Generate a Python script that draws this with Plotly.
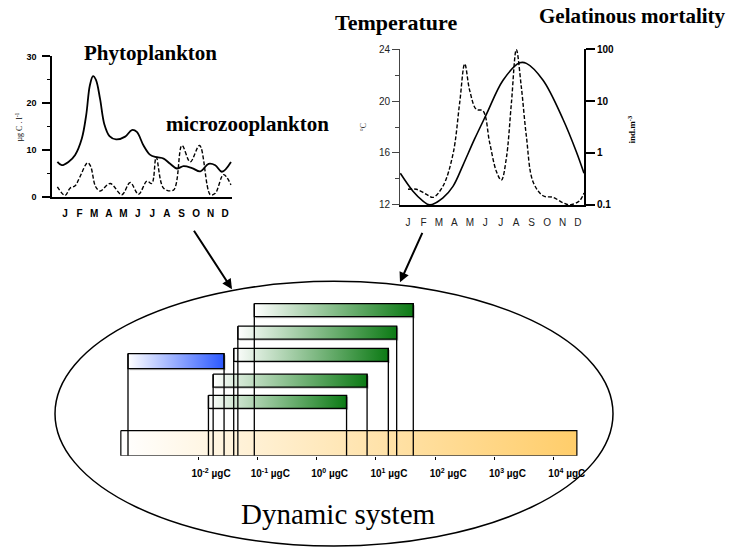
import plotly.graph_objects as go

W, H = 739, 550

# ---------------- data ----------------
months = ["J", "F", "M", "A", "M", "J", "J", "A", "S", "O", "N", "D"]
month_pos = list(range(1, 13))

# Phytoplankton (µg C l-1), solid
phyto_t = [0.47, 0.77, 1.23, 1.69, 2.15, 2.45, 2.7, 2.92, 3.12, 3.4, 3.7, 4.05, 4.5, 5.13, 5.59, 5.93,
           6.39, 6.85, 7.31, 7.77, 8.22, 8.68, 9.14, 9.72, 10.29, 10.86, 11.32, 11.78, 12.4]
phyto_v = [7.5, 6.8, 7.5, 9.0, 12.5, 17.5, 23.8, 25.8, 25.0, 21.0, 15.5, 13.0, 12.3, 12.9, 14.3, 13.9,
           11.0, 9.0, 8.5, 8.2, 7.1, 6.1, 6.6, 6.2, 5.5, 7.1, 6.8, 5.4, 7.5]

# Microzooplankton (µg C l-1), dashed
micro_t = [0.47, 1.0, 1.34, 1.69, 2.0, 2.54, 2.75, 3.1, 3.41, 4.1, 4.9, 5.47, 6.05, 6.62, 6.96,
           7.26, 7.77, 8.45, 9.03, 9.6, 10.24, 10.98, 11.32, 11.89, 12.4]
micro_v = [2.2, 0.35, 1.9, 2.4, 4.2, 7.3, 6.6, 2.2, 1.3, 2.9, 0.5, 3.1, 0.6, 3.4, 2.9,
           8.5, 1.9, 1.5, 11.0, 7.5, 11.0, 0.5, 0.8, 4.8, 2.6]

# Temperature (°C), solid
temp_t = [0.5, 1.32, 1.97, 2.4, 3.26, 3.91, 4.56, 5.31, 6.07, 7.15, 8.23, 8.66, 9.74, 11.03, 11.9, 12.39]
temp_v = [14.44, 13.06, 12.3, 12.0, 12.55, 13.43, 15.07, 17.08, 18.97, 21.6, 22.94, 22.9, 21.6, 18.6, 16.08, 14.44]

# Gelatinous mortality (ind. m-3), dashed
gel_t = [1.0, 1.54, 2.19, 2.62, 3.26, 3.91, 4.34, 4.67, 4.99, 5.42, 5.85, 6.28, 6.72, 7.04,
         7.36, 7.69, 8.01, 8.33, 8.66, 9.09, 9.74, 10.38, 11.03, 11.46, 12.1, 12.39]
gel_v = [0.2, 0.2, 0.16, 0.14, 0.23, 0.95, 9.1, 52, 16, 6.9, 6.5, 1.6, 0.44, 0.3,
         0.78, 9.1, 98, 19, 2.1, 0.28, 0.15, 0.14, 0.11, 0.1, 0.12, 0.17]

# Size spectrum (µg C)
size_ticks = [1e-2, 1e-1, 1e0, 1e1, 1e2, 1e3, 1e4]
size_tick_text = ["10<sup>-2</sup> µgC", "10<sup>-1</sup> µgC", "10<sup>0</sup> µgC", "10<sup>1</sup> µgC",
                  "10<sup>2</sup> µgC", "10<sup>3</sup> µgC", "10<sup>4</sup> µgC"]
spectrum_lo, spectrum_hi = 0.0005, 24500
bar_lo = [0.089, 0.047, 0.040, 0.018, 0.015, 0.00066]
bar_hi = [42.7, 22.4, 16.2, 7.1, 3.2, 0.0275]
bar_kind = ["green", "green", "green", "green", "green", "blue"]

# ---------------- layout helpers (pixel positions) ----------------
def PX(p):
    return p / W

def PY(p):
    return 1 - p / H

row_top = [304.7, 327.7, 350.3, 376.7, 398.3, 355.7]
row_h = [13.3, 13.3, 13.3, 13.3, 13.3, 15.3]
spec_top, spec_bot = 434.3, 460.0
shadow_dec = 1.6 / 59.3  # ~1.6 px in decades on the size axis

grad = {
    "green": [[0, "rgba(255,255,255,1)"], [1, "#0c7a14"]],
    "blue": [[0, "rgba(255,255,255,1)"], [1, "#2b58ff"]],
    "orange": [[0, "rgba(255,255,255,1)"], [1, "#ffcd6a"]],
}

fig = go.Figure()

# left chart
fig.add_trace(go.Scatter(x=phyto_t, y=phyto_v, mode="lines", xaxis="x", yaxis="y",
                         line=dict(color="black", width=1.8, shape="spline")))
fig.add_trace(go.Scatter(x=micro_t, y=micro_v, mode="lines", xaxis="x", yaxis="y",
                         line=dict(color="black", width=1.4, dash="4px,2px", shape="spline")))
# right chart
fig.add_trace(go.Scatter(x=temp_t, y=temp_v, mode="lines", xaxis="x2", yaxis="y2",
                         line=dict(color="black", width=1.6, shape="spline")))
fig.add_trace(go.Scatter(x=gel_t, y=gel_v, mode="lines", xaxis="x2", yaxis="y3",
                         line=dict(color="black", width=1.4, dash="4px,2px", shape="spline")))

# size spectrum bar
fig.add_trace(go.Scatter(
    x=[spectrum_lo, spectrum_hi, spectrum_hi, spectrum_lo, spectrum_lo],
    y=[spec_top, spec_top, spec_bot, spec_bot, spec_top],
    mode="lines", fill="toself", xaxis="x3", yaxis="y4",
    fillgradient=dict(type="horizontal", colorscale=grad["orange"]),
    line=dict(color="black", width=1.2)))

# organism bars (with a light drop shadow)
for lo, hi, top, h, kind in zip(bar_lo, bar_hi, row_top, row_h, bar_kind):
    f = 10 ** shadow_dec
    fig.add_trace(go.Scatter(
        x=[lo * f, hi * f, hi * f, lo * f, lo * f],
        y=[top + 1.6, top + 1.6, top + h + 1.6, top + h + 1.6, top + 1.6],
        mode="lines", fill="toself", xaxis="x3", yaxis="y4",
        fillcolor="rgba(160,160,160,0.55)", line=dict(width=0)))
    fig.add_trace(go.Scatter(
        x=[lo, hi, hi, lo, lo], y=[top, top, top + h, top + h, top],
        mode="lines", fill="toself", xaxis="x3", yaxis="y4",
        fillgradient=dict(type="horizontal", colorscale=grad[kind]),
        line=dict(color="black", width=1.3)))

# vertical connectors
vx, vy = [], []
for lo, hi, top in zip(bar_lo, bar_hi, row_top):
    vx += [lo, lo, None, hi, hi, None]
    vy += [top, spec_bot, None, top, spec_bot, None]
fig.add_trace(go.Scatter(x=vx, y=vy, mode="lines", xaxis="x3", yaxis="y4",
                         line=dict(color="black", width=1.3)))

bold = dict(family="Liberation Sans, Arial", size=10, color="black", weight="bold")
normal = dict(family="Liberation Sans, Arial", size=10, color="#222")

fig.update_layout(
    width=W, height=H, margin=dict(l=0, r=0, t=0, b=0),
    paper_bgcolor="white", plot_bgcolor="rgba(0,0,0,0)", showlegend=False,
    xaxis=dict(domain=[PX(52), PX(232)], anchor="y", range=[0.1, 12.47],
               tickvals=month_pos, ticktext=months, ticks="", showline=True, linewidth=1.6,
               linecolor="black", showgrid=False, zeroline=False, tickfont=bold,
               ticklabelstandoff=6, fixedrange=True),
    yaxis=dict(domain=[PY(196), PY(52.5)], anchor="x", range=[0, 30],
               tickvals=[0, 10, 20, 30], ticks="outside", ticklen=8, tickwidth=1.5,
               minor=dict(dtick=5, ticks="outside", ticklen=3, tickwidth=1.2, tickcolor="black"),
               showline=True, linewidth=1.6, linecolor="black", showgrid=False, zeroline=False,
               tickfont=dict(family="Liberation Sans, Arial", size=9, color="black", weight="bold"),
               tickcolor="black", ticklabelstandoff=4),
    xaxis2=dict(domain=[PX(400), PX(584)], anchor="y2", range=[0.48, 12.39],
                tickvals=month_pos, ticktext=months, ticks="", showline=True, linewidth=2,
                linecolor="black", showgrid=False, zeroline=False, tickfont=normal,
                ticklabelstandoff=7),
    yaxis2=dict(domain=[PY(204), PY(45)], anchor="x2", range=[12, 24],
                tickvals=[12, 16, 20, 24], ticks="outside", ticklen=7, tickcolor="#444",
                minor=dict(dtick=2, ticks="outside", ticklen=4, tickcolor="#444"),
                showline=True, linewidth=1, linecolor="#444", showgrid=False, zeroline=False,
                tickfont=normal),
    yaxis3=dict(overlaying="y2", side="right", anchor="x2", type="log", range=[-1, 2],
                tickvals=[0.1, 1, 10, 100], ticktext=["0.1", "1", "10", "100"],
                ticks="outside", ticklen=9, tickwidth=2, tickcolor="black",
                showline=True, linewidth=2, linecolor="black", showgrid=False, zeroline=False,
                tickfont=bold),
    xaxis3=dict(domain=[0, 1], anchor="y4", type="log", range=[-5.339, 7.123],
                tickvals=size_ticks, ticktext=size_tick_text, ticks="outside", ticklen=3,
                tickcolor="black", showline=False, showgrid=False, zeroline=False,
                tickfont=bold, ticklabelshift=13, ticklabelstandoff=5),
    yaxis4=dict(domain=[PY(460), PY(290)], anchor="x3", range=[460, 290], visible=False),
)

shapes = [
    dict(type="circle", xref="paper", yref="paper", x0=PX(55), x1=PX(613),
         y0=PY(552), y1=PY(282), line=dict(color="black", width=1.5), layer="below"),
]
fig.update_layout(shapes=shapes)

serif_b = lambda s: dict(family="Liberation Serif, Times New Roman", size=s, color="black", weight="bold")

annots = [
    dict(text="Phytoplankton", x=PX(150), y=PY(49), font=serif_b(21)),
    dict(text="microzooplankton", x=PX(247), y=PY(121), font=serif_b(21)),
    dict(text="Temperature", x=PX(396), y=PY(18), font=serif_b(22)),
    dict(text="Gelatinous mortality", x=PX(632), y=PY(11.5), font=serif_b(21)),
    dict(text="Dynamic system", x=PX(338), y=PY(519),
         font=dict(family="Liberation Serif, Times New Roman", size=29, color="black")),
    dict(text="µg C . l<sup>-1</sup>", x=PX(18), y=PY(125), textangle=-90,
         font=dict(family="Liberation Serif, Times New Roman", size=8, color="black")),
    dict(text="°C", x=PX(363), y=PY(125), textangle=-90,
         font=dict(family="Liberation Serif, Times New Roman", size=8, color="#333")),
    dict(text="ind.m<sup>-3</sup>", x=PX(632), y=PY(127), textangle=-90,
         font=dict(family="Liberation Serif, Times New Roman", size=9, color="black", weight="bold")),
]
for a in annots:
    a.update(xref="paper", yref="paper", showarrow=False, xanchor="center", yanchor="middle")

arrows = [
    dict(x=PX(232), y=PY(290), ax=-39, ay=-60),
    dict(x=PX(400), y=PY(283), ax=23, ay=-51),
]
for a in arrows:
    a.update(xref="paper", yref="paper", text="", showarrow=True, arrowhead=2,
             arrowsize=1, arrowwidth=2, arrowcolor="black")

fig.update_layout(annotations=annots + arrows)

fig.write_html("out.html")
